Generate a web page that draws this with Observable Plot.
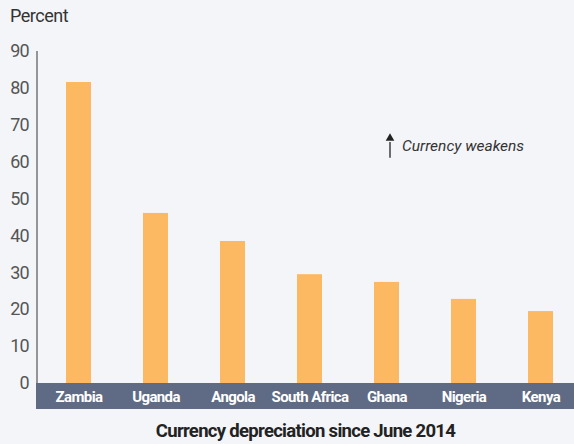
<!DOCTYPE html>
<html>
<head>
<meta charset="utf-8">
<script src="https://cdn.jsdelivr.net/npm/d3@7"></script>
<script src="https://cdn.jsdelivr.net/npm/@observablehq/plot@0.6"></script>
<style>
  html, body { margin: 0; padding: 0; background: #f4f5f8; }
  body { width: 574px; height: 444px; position: relative; overflow: hidden;
         font-family: Roboto, "Noto Sans", sans-serif; }
  #title { position: absolute; left: 10px; top: 5px; font-size: 18px; color: #333; letter-spacing: -0.5px; }
  #chart { position: absolute; left: 0; top: 40px; }
  #caption { position: absolute; left: 37px; right: 0; top: 420px; text-align: center;
             font-size: 18.5px; font-weight: bold; color: #222; letter-spacing: -0.7px; }
  #chart svg g[aria-label="y-axis tick label"] text { font-size: 18px; fill: #555; letter-spacing: -1px; }
  #chart svg g[aria-label="x-axis tick label"] text { font-size: 15px; font-weight: bold; fill: #fff; letter-spacing: -0.6px; }
</style>
</head>
<body>
<div id="title">Percent</div>
<div id="chart"></div>
<div id="caption">Currency depreciation since June 2014</div>
<script>
const countries = ["Zambia", "Uganda", "Angola", "South Africa", "Ghana", "Nigeria", "Kenya"];
const depreciation = [81.6, 46.1, 38.5, 29.5, 27.4, 22.8, 19.5];
const yTicks = [0, 10, 20, 30, 40, 50, 60, 70, 80, 90];
const noteText = ["Currency weakens"];
const noteCountry = "Ghana";
const noteArrowFrom = 61.2;
const noteArrowTo = 66.5;
const noteTextValue = 64.3;

const FONT = 'Roboto, "Noto Sans", sans-serif';
const data = countries.map((c, i) => ({country: c, value: depreciation[i]}));

const plot = Plot.plot({
  width: 574,
  height: 375,
  marginTop: 11,
  marginBottom: 32,
  marginLeft: 37,
  marginRight: 0,
  style: {background: "transparent", fontFamily: FONT, overflow: "visible"},
  x: {domain: countries, range: [36.5, 582], paddingInner: 0.68, paddingOuter: 0.34, axis: null, label: null},
  y: {domain: [0, 90], axis: null, label: null},
  marks: [
    Plot.barY(data, {x: "country", y: "value", fill: "#fdb862"}),
    Plot.axisY({ticks: yTicks, tickSize: 0, tickPadding: 9, label: null}),
    Plot.axisX({tickSize: 0, tickPadding: 7.5, label: null}),
    Plot.link([{x: noteCountry}], {x1: "x", x2: "x", y1: () => noteArrowFrom, y2: () => noteArrowTo - 1, stroke: "#222", strokeWidth: 1.3, dx: 3}),
    Plot.dot([{x: noteCountry}], {x: "x", y: () => noteArrowTo, symbol: "triangle", r: 3.2, fill: "#222", stroke: null, dx: 3}),
    Plot.text(noteText, {x: () => noteCountry, y: () => noteTextValue, text: d => d, textAnchor: "start", dx: 15, fontSize: 15.5, fontStyle: "italic", fill: "#333"})
  ]
});

// axis band and axis line derived from the scales
const svg = d3.select(plot);
const ys = plot.scale("y");
const y0 = ys.apply(0), yTop = ys.apply(90);
const left = 37;
svg.insert("rect", ":first-child")
  .attr("x", left - 1).attr("y", y0).attr("width", 574 - left + 1).attr("height", 26)
  .attr("fill", "#5f6b84");
svg.append("line")
  .attr("x1", left).attr("x2", left).attr("y1", yTop).attr("y2", y0)
  .attr("stroke", "#555").attr("stroke-width", 1.2);
const xl = plot.querySelector('g[aria-label="x-axis tick label"]');
if (xl) plot.appendChild(xl);

document.getElementById("chart").appendChild(plot);
</script>
</body>
</html>
